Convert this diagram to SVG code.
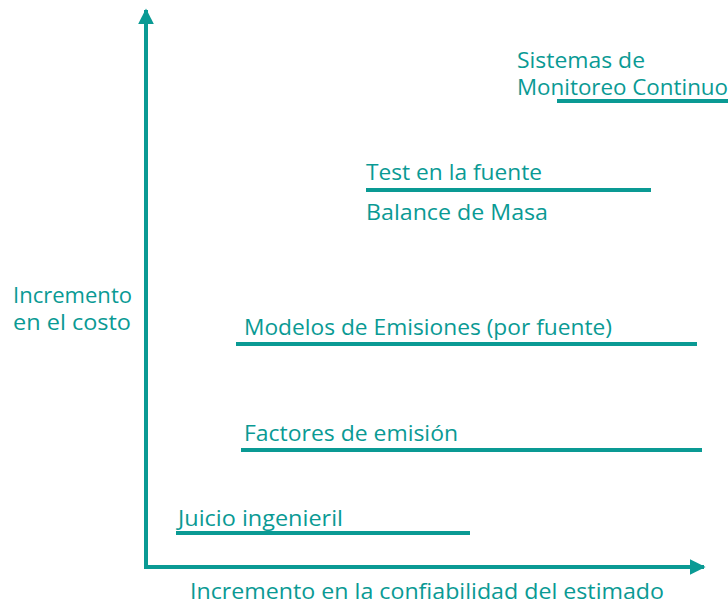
<svg xmlns="http://www.w3.org/2000/svg" width="728" height="605" viewBox="0 0 728 605">
<defs>
<style>
text{font-family:"Open Sans","Noto Sans",sans-serif;font-size:22px;fill:#0a9a94}
.bar{stroke:#0a9a94;stroke-width:4;fill:none}
.axis{stroke:#0a9a94;stroke-width:4;fill:none}
</style>
<marker id="ah" viewBox="0 0 10 10" refX="9" refY="5" markerWidth="4" markerHeight="4" orient="auto" markerUnits="strokeWidth">
<path d="M0,0 L10,5 L0,10 z" fill="#0a9a94"/>
</marker>
</defs>
<g id="connectors">
<line class="axis" x1="146" y1="569" x2="146" y2="10" marker-end="url(#ah)"/>
<line class="axis" x1="144" y1="567" x2="704" y2="567" marker-end="url(#ah)"/>
</g>
<g id="axis-labels">
<text x="13" y="303" textLength="119" lengthAdjust="spacingAndGlyphs">Incremento</text>
<text x="13" y="330" textLength="118" lengthAdjust="spacingAndGlyphs">en el costo</text>
<text x="190" y="599" textLength="474" lengthAdjust="spacingAndGlyphs">Incremento en la confiabilidad del estimado</text>
</g>
<g id="sistemas">
<text x="517" y="68" textLength="128" lengthAdjust="spacingAndGlyphs">Sistemas de</text>
<text x="517" y="95" textLength="211" lengthAdjust="spacingAndGlyphs">Monitoreo Continuo</text>
<line class="bar" x1="557" y1="101" x2="728" y2="101"/>
</g>
<g id="test">
<text x="366" y="180" textLength="176" lengthAdjust="spacingAndGlyphs">Test en la fuente</text>
<line class="bar" x1="366" y1="190" x2="651" y2="190"/>
<text x="366" y="220" textLength="182" lengthAdjust="spacingAndGlyphs">Balance de Masa</text>
</g>
<g id="modelos">
<text x="244" y="335" textLength="368" lengthAdjust="spacingAndGlyphs">Modelos de Emisiones (por fuente)</text>
<line class="bar" x1="236" y1="344" x2="697" y2="344"/>
</g>
<g id="factores">
<text x="244" y="441" textLength="214" lengthAdjust="spacingAndGlyphs">Factores de emisión</text>
<line class="bar" x1="241" y1="450" x2="702" y2="450"/>
</g>
<g id="juicio">
<text x="178" y="526" textLength="165" lengthAdjust="spacingAndGlyphs">Juicio ingenieril</text>
<line class="bar" x1="176" y1="533" x2="470" y2="533"/>
</g>
</svg>
